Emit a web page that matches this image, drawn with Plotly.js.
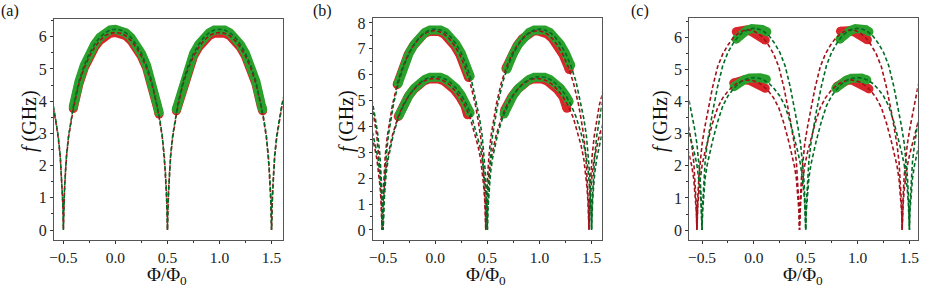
<!DOCTYPE html>
<html><head><meta charset="utf-8">
<script src="https://cdn.plot.ly/plotly-3.0.1.min.js"></script>
<style>html,body{margin:0;padding:0;background:#fff}</style>
</head><body><div id="chart" style="width:926px;height:293px"></div>
<script>
// ---------- data ----------
const xTickVals = [-0.5, 0, 0.5, 1, 1.5];
const xTickText = ['\u22120.5', '0.0', '0.5', '1.0', '1.5'];
const xMinorVals = [-0.25, 0.25, 0.75, 1.25];
const yTickA = [0,1,2,3,4,5,6];
const yTickB = [0,1,2,3,4,5,6,7,8];
const yMinorA = [0.5,1.5,2.5,3.5,4.5,5.5,6.5];
const yMinorB = [0.5,1.5,2.5,3.5,4.5,5.5,6.5,7.5];
const panelLabels = ['(a)', '(b)', '(c)'];

// flux grid for curves with dips at -0.5, 0.5, 1.5
const xStd = [-0.625,-0.6,-0.575,-0.55,-0.53,-0.52,-0.51,-0.505,-0.5,-0.495,-0.49,-0.48,-0.47,-0.45,-0.425,-0.4,-0.35,-0.3,-0.25,-0.2,-0.15,-0.1,-0.05,0,0.05,0.1,0.15,0.2,0.25,0.3,0.35,0.4,0.425,0.45,0.47,0.48,0.49,0.495,0.5,0.505,0.51,0.52,0.53,0.55,0.575,0.6,0.65,0.7,0.75,0.8,0.85,0.9,0.95,1,1.05,1.1,1.15,1.2,1.25,1.3,1.35,1.4,1.425,1.45,1.47,1.48,1.49,1.495,1.5,1.505,1.51,1.52,1.53,1.55,1.575,1.6,1.625];

// panel (a)
const fA_green = [4.24,3.91,3.46,2.93,2.31,1.81,1.18,0.81,0,0.81,1.18,1.81,2.31,2.93,3.46,3.91,4.61,5.11,5.48,5.76,5.98,6.12,6.21,6.23,6.21,6.12,5.98,5.76,5.48,5.11,4.61,3.91,3.46,2.93,2.31,1.81,1.18,0.81,0,0.81,1.18,1.81,2.31,2.93,3.46,3.91,4.61,5.11,5.48,5.76,5.98,6.12,6.21,6.23,6.21,6.12,5.98,5.76,5.48,5.11,4.61,3.91,3.46,2.93,2.31,1.81,1.18,0.81,0,0.81,1.18,1.81,2.31,2.93,3.46,3.91,4.24];
const fA_red = [4.17,3.85,3.40,2.88,2.27,1.78,1.16,0.80,0,0.80,1.16,1.78,2.27,2.88,3.40,3.85,4.54,5.03,5.39,5.67,5.88,6.03,6.11,6.13,6.11,6.03,5.88,5.67,5.39,5.03,4.54,3.85,3.40,2.88,2.27,1.78,1.16,0.80,0,0.80,1.16,1.78,2.27,2.88,3.40,3.85,4.54,5.03,5.39,5.67,5.88,6.03,6.11,6.13,6.11,6.03,5.88,5.67,5.39,5.03,4.54,3.85,3.40,2.88,2.27,1.78,1.16,0.80,0,0.80,1.16,1.78,2.27,2.88,3.40,3.85,4.17];
const xA_band = [-0.405,-0.4,-0.35,-0.3,-0.25,-0.2,-0.15,-0.1,-0.05,0,0.05,0.1,0.15,0.2,0.25,0.3,0.35,0.4,0.42,null,0.585,0.6,0.65,0.7,0.75,0.8,0.85,0.9,0.95,1,1.05,1.1,1.15,1.2,1.25,1.3,1.35,1.4,1.415];
const fA_greenBand = [3.83,3.91,4.61,5.11,5.48,5.76,5.98,6.12,6.21,6.23,6.21,6.12,5.98,5.76,5.48,5.11,4.61,3.91,3.65,null,3.75,3.91,4.61,5.11,5.48,5.76,5.98,6.12,6.21,6.23,6.21,6.12,5.98,5.76,5.48,5.11,4.61,3.91,3.75];
const fA_redBand = [3.77,3.85,4.54,5.03,5.39,5.67,5.88,6.03,6.11,6.13,6.11,6.03,5.88,5.67,5.39,5.03,4.54,3.85,3.60,null,3.70,3.85,4.54,5.03,5.39,5.67,5.88,6.03,6.11,6.13,6.11,6.03,5.88,5.67,5.39,5.03,4.54,3.85,3.70];

// panel (b)
const fB_greenUp = [5.28,4.87,4.31,3.65,2.87,2.25,1.47,1.01,0,1.01,1.47,2.25,2.87,3.65,4.31,4.87,5.74,6.36,6.83,7.18,7.45,7.63,7.73,7.76,7.73,7.63,7.45,7.18,6.83,6.36,5.74,4.87,4.31,3.65,2.87,2.25,1.47,1.01,0,1.01,1.47,2.25,2.87,3.65,4.31,4.87,5.74,6.36,6.83,7.18,7.45,7.63,7.73,7.76,7.73,7.63,7.45,7.18,6.83,6.36,5.74,4.87,4.31,3.65,2.87,2.25,1.47,1.01,0,1.01,1.47,2.25,2.87,3.65,4.31,4.87,5.28];
const fB_greenLo = [4.03,3.72,3.29,2.78,2.19,1.72,1.12,0.77,0,0.77,1.12,1.72,2.19,2.78,3.29,3.72,4.38,4.85,5.21,5.48,5.68,5.82,5.90,5.92,5.90,5.82,5.68,5.48,5.21,4.85,4.38,3.72,3.29,2.78,2.19,1.72,1.12,0.77,0,0.77,1.12,1.72,2.19,2.78,3.29,3.72,4.38,4.85,5.21,5.48,5.68,5.82,5.90,5.92,5.90,5.82,5.68,5.48,5.21,4.85,4.38,3.72,3.29,2.78,2.19,1.72,1.12,0.77,0,0.77,1.12,1.72,2.19,2.78,3.29,3.72,4.03];
const xB_red = [-0.625,-0.6,-0.585,-0.56,-0.54,-0.53,-0.52,-0.515,-0.51,-0.505,-0.5,-0.49,-0.48,-0.46,-0.435,-0.41,-0.36,-0.31,-0.26,-0.21,-0.16,-0.11,-0.06,-0.0125,0.035,0.085,0.135,0.185,0.235,0.285,0.335,0.385,0.41,0.435,0.455,0.465,0.475,0.48,0.485,0.49,0.495,0.505,0.515,0.535,0.56,0.585,0.635,0.685,0.735,0.785,0.835,0.885,0.935,0.98,1.025,1.075,1.125,1.175,1.225,1.275,1.325,1.375,1.4,1.425,1.445,1.455,1.465,1.47,1.475,1.48,1.485,1.495,1.505,1.525,1.55,1.575,1.6,1.625];
const fB_redUp = [5.08,4.62,4.27,3.62,2.85,2.23,1.46,1.00,0,1.00,1.46,2.23,2.85,3.62,4.27,4.84,5.70,6.31,6.78,7.12,7.39,7.57,7.67,7.70,7.67,7.57,7.39,7.12,6.78,6.31,5.70,4.84,4.27,3.62,2.85,2.23,1.46,1.00,0,1.00,1.46,2.23,2.85,3.62,4.27,4.84,5.70,6.31,6.78,7.12,7.39,7.57,7.67,7.70,7.67,7.57,7.39,7.12,6.78,6.31,5.70,4.84,4.27,3.62,2.85,2.23,1.46,1.00,0,1.00,1.46,2.23,2.85,3.62,4.27,4.84,5.20,5.70];
const fB_redLo = [3.86,3.51,3.25,2.75,2.16,1.70,1.11,0.76,0,0.76,1.11,1.70,2.16,2.75,3.25,3.67,4.33,4.80,5.15,5.41,5.62,5.75,5.83,5.85,5.83,5.75,5.62,5.41,5.15,4.80,4.33,3.67,3.25,2.75,2.16,1.70,1.11,0.76,0,0.76,1.11,1.70,2.16,2.75,3.25,3.67,4.33,4.80,5.15,5.41,5.62,5.75,5.83,5.85,5.83,5.75,5.62,5.41,5.15,4.80,4.33,3.67,3.25,2.75,2.16,1.70,1.11,0.76,0,0.76,1.11,1.70,2.16,2.75,3.25,3.67,3.98,4.33];
const xB_greenUpBand = [-0.355,-0.3,-0.25,-0.2,-0.15,-0.1,-0.05,0,0.05,0.1,0.15,0.2,0.25,0.3,0.335,null,0.687,0.7,0.75,0.8,0.85,0.9,0.95,1,1.05,1.1,1.15,1.2,1.25,1.3];
const fB_greenUpBand = [5.66,6.36,6.83,7.18,7.45,7.63,7.73,7.76,7.73,7.63,7.45,7.18,6.83,6.36,5.94,null,6.21,6.36,6.83,7.18,7.45,7.63,7.73,7.76,7.73,7.63,7.45,7.18,6.83,6.36];
const xB_redUpBand = [-0.365,-0.31,-0.26,-0.21,-0.16,-0.11,-0.06,-0.0125,0.035,0.085,0.135,0.185,0.235,0.285,0.32,null,0.678,0.685,0.735,0.785,0.835,0.885,0.935,0.98,1.025,1.075,1.125,1.175,1.225,1.275,1.285];
const fB_redUpBand = [5.62,6.31,6.78,7.12,7.39,7.57,7.67,7.70,7.67,7.57,7.39,7.12,6.78,6.31,5.89,null,6.24,6.31,6.78,7.12,7.39,7.57,7.67,7.70,7.67,7.57,7.39,7.12,6.78,6.31,6.20];
const xB_greenLoBand = [-0.345,-0.3,-0.25,-0.2,-0.15,-0.1,-0.05,0,0.05,0.1,0.15,0.2,0.25,0.3,0.335,null,0.66,0.7,0.75,0.8,0.85,0.9,0.95,1,1.05,1.1,1.15,1.2,1.25,1.285];
const fB_greenLoBand = [4.43,4.85,5.21,5.48,5.68,5.82,5.90,5.92,5.90,5.82,5.68,5.48,5.21,4.85,4.53,null,4.48,4.85,5.21,5.48,5.68,5.82,5.90,5.92,5.90,5.82,5.68,5.48,5.21,4.96];
const xB_redLoBand = [-0.355,-0.31,-0.26,-0.21,-0.16,-0.11,-0.06,-0.0125,0.035,0.085,0.135,0.185,0.235,0.285,0.31,null,0.665,0.685,0.735,0.785,0.835,0.885,0.935,0.98,1.025,1.075,1.125,1.175,1.225,1.263];
const fB_redLoBand = [4.38,4.80,5.15,5.41,5.62,5.75,5.83,5.85,5.83,5.75,5.62,5.41,5.15,4.80,4.45,null,4.62,4.80,5.15,5.41,5.62,5.75,5.83,5.85,5.83,5.75,5.62,5.41,5.15,4.70];

// panel (c)
const fC_greenUp = [4.03,3.65,3.21,2.70,2.14,1.70,1.10,0.75,0,0.75,1.10,1.70,2.14,2.70,3.21,3.65,4.47,5.13,5.54,5.82,6.04,6.18,6.26,6.29,6.26,6.18,6.04,5.82,5.54,5.13,4.47,3.65,3.21,2.70,2.14,1.70,1.10,0.75,0,0.75,1.10,1.70,2.14,2.70,3.21,3.65,4.47,5.13,5.54,5.82,6.04,6.18,6.26,6.29,6.26,6.18,6.04,5.82,5.54,5.13,4.47,3.65,3.21,2.70,2.14,1.70,1.10,0.75,0,0.75,1.10,1.70,2.14,2.70,3.21,3.65,4.03];
const fC_greenLo = [3.04,2.76,2.42,2.04,1.62,1.28,0.83,0.57,0,0.57,0.83,1.28,1.62,2.04,2.42,2.76,3.37,3.87,4.18,4.39,4.56,4.67,4.73,4.75,4.73,4.67,4.56,4.39,4.18,3.87,3.37,2.76,2.42,2.04,1.62,1.28,0.83,0.57,0,0.57,0.83,1.28,1.62,2.04,2.42,2.76,3.37,3.87,4.18,4.39,4.56,4.67,4.73,4.75,4.73,4.67,4.56,4.39,4.18,3.87,3.37,2.76,2.42,2.04,1.62,1.28,0.83,0.57,0,0.57,0.83,1.28,1.62,2.04,2.42,2.76,3.04];
const xC_red = [-0.65,-0.625,-0.6,-0.58,-0.57,-0.56,-0.555,-0.55,-0.545,-0.54,-0.53,-0.52,-0.5,-0.475,-0.45,-0.4,-0.35,-0.3,-0.25,-0.2,-0.15,-0.1,-0.055,-0.01,0.04,0.09,0.14,0.19,0.24,0.29,0.34,0.365,0.39,0.41,0.42,0.43,0.435,0.44,0.445,0.45,0.46,0.47,0.49,0.515,0.54,0.59,0.64,0.69,0.74,0.79,0.84,0.89,0.935,0.98,1.03,1.08,1.13,1.18,1.23,1.28,1.33,1.355,1.38,1.4,1.41,1.42,1.425,1.43,1.435,1.44,1.45,1.46,1.48,1.505,1.53,1.58,1.63];
const fC_redUp = [3.62,3.18,2.68,2.12,1.68,1.09,0.75,0,0.75,1.09,1.68,2.12,2.68,3.18,3.62,4.43,5.09,5.49,5.77,5.99,6.13,6.22,6.24,6.22,6.13,5.99,5.77,5.49,5.09,4.43,3.62,3.18,2.68,2.12,1.68,1.09,0.75,0,0.75,1.09,1.68,2.12,2.68,3.18,3.62,4.43,5.09,5.49,5.77,5.99,6.13,6.22,6.24,6.22,6.13,5.99,5.77,5.49,5.09,4.43,3.62,3.18,2.68,2.12,1.68,1.09,0.75,0,0.75,1.09,1.68,2.12,2.68,3.18,3.62,4.43,5.09];
const fC_redLo = [2.71,2.39,2.01,1.59,1.26,0.82,0.56,0,0.56,0.82,1.26,1.59,2.01,2.39,2.71,3.32,3.81,4.12,4.33,4.49,4.60,4.66,4.68,4.66,4.60,4.49,4.33,4.12,3.81,3.32,2.71,2.39,2.01,1.59,1.26,0.82,0.56,0,0.56,0.82,1.26,1.59,2.01,2.39,2.71,3.32,3.81,4.12,4.33,4.49,4.60,4.66,4.68,4.66,4.60,4.49,4.33,4.12,3.81,3.32,2.71,2.39,2.01,1.59,1.26,0.82,0.56,0,0.56,0.82,1.26,1.59,2.01,2.39,2.71,3.32,3.81];
const xC_greenUpBand = [-0.17,-0.12,-0.07,-0.02,0.03,0.08,0.125,null,0.83,0.88,0.93,0.98,1.03,1.08,1.11];
const fC_greenUpBand = [5.95,6.12,6.22,6.28,6.29,6.25,6.18,null,5.95,6.12,6.22,6.28,6.29,6.25,6.18];
const xC_redUpBand = [-0.17,-0.12,-0.07,-0.02,0.03,0.08,0.11,null,0.835,0.88,0.93,0.98,1.03,1.08,1.095];
const fC_redUpBand = [6.18,6.24,6.24,6.18,6.10,5.99,5.92,null,6.20,6.24,6.22,6.15,6.06,5.97,5.93];
const xC_greenLoBand = [-0.19,-0.14,-0.09,-0.04,0.01,0.06,0.12,null,0.79,0.84,0.89,0.94,0.99,1.04,1.09];
const fC_greenLoBand = [4.47,4.60,4.69,4.74,4.76,4.75,4.70,null,4.42,4.57,4.67,4.73,4.76,4.74,4.68];
const xC_redLoBand = [-0.195,-0.14,-0.09,-0.04,0.01,0.06,0.11,null,0.80,0.85,0.90,0.95,1.00,1.05,1.11];
const fC_redLoBand = [4.58,4.65,4.68,4.66,4.60,4.51,4.42,null,4.47,4.60,4.67,4.67,4.60,4.50,4.40];

// ---------- styling ----------
const FONT = 'Liberation Serif, Times New Roman, serif';
const DARKRED = '#a3121b', DARKGREEN = '#006b22';
const BANDRED = '#d9262a', BANDGREEN = '#2aa12c';
const BANDW = 9;

function dashed(x, y, color, xa, ya) {
  return {x, y, xaxis: xa, yaxis: ya, type: 'scatter', mode: 'lines',
    line: {color, width: 1.6, dash: '4px,2.5px'}, hoverinfo: 'skip', showlegend: false};
}
// end points of each null-separated segment (rounded band ends)
function segEnds(x, y) {
  const ex = [], ey = [];
  let start = -1;
  for (let i = 0; i <= x.length; i++) {
    const isNull = i === x.length || x[i] === null;
    if (!isNull && start < 0) start = i;
    if (isNull && start >= 0) { ex.push(x[start], x[i - 1]); ey.push(y[start], y[i - 1]); start = -1; }
  }
  return [ex, ey];
}
function band(x, y, color, xa, ya) {
  const [ex, ey] = segEnds(x, y);
  return [
    {x, y, xaxis: xa, yaxis: ya, type: 'scatter', mode: 'lines',
      line: {color, width: BANDW}, connectgaps: false, hoverinfo: 'skip', showlegend: false},
    {x: ex, y: ey, xaxis: xa, yaxis: ya, type: 'scatter', mode: 'markers',
      marker: {color, size: BANDW, line: {width: 0}}, hoverinfo: 'skip', showlegend: false}
  ];
}

const traces = [].concat(
  band(xA_band, fA_redBand, BANDRED, 'x', 'y'),
  band(xA_band, fA_greenBand, BANDGREEN, 'x', 'y'),
  [dashed(xStd, fA_red, DARKRED, 'x', 'y'),
   dashed(xStd, fA_green, DARKGREEN, 'x', 'y')],

  band(xB_redUpBand, fB_redUpBand, BANDRED, 'x2', 'y2'),
  band(xB_redLoBand, fB_redLoBand, BANDRED, 'x2', 'y2'),
  band(xB_greenUpBand, fB_greenUpBand, BANDGREEN, 'x2', 'y2'),
  band(xB_greenLoBand, fB_greenLoBand, BANDGREEN, 'x2', 'y2'),
  [dashed(xB_red, fB_redUp, DARKRED, 'x2', 'y2'),
   dashed(xB_red, fB_redLo, DARKRED, 'x2', 'y2'),
   dashed(xStd, fB_greenUp, DARKGREEN, 'x2', 'y2'),
   dashed(xStd, fB_greenLo, DARKGREEN, 'x2', 'y2')],

  band(xC_redUpBand, fC_redUpBand, BANDRED, 'x3', 'y3'),
  band(xC_redLoBand, fC_redLoBand, BANDRED, 'x3', 'y3'),
  band(xC_greenUpBand, fC_greenUpBand, BANDGREEN, 'x3', 'y3'),
  band(xC_greenLoBand, fC_greenLoBand, BANDGREEN, 'x3', 'y3'),
  [dashed(xC_red, fC_redUp, DARKRED, 'x3', 'y3'),
   dashed(xC_red, fC_redLo, DARKRED, 'x3', 'y3'),
   dashed(xStd, fC_greenUp, DARKGREEN, 'x3', 'y3'),
   dashed(xStd, fC_greenLo, DARKGREEN, 'x3', 'y3')]
);

const W = 926, H = 293;
function xAxis(d0, d1, range, anchor) {
  return {domain: [d0 / W, d1 / W], range, anchor, tickvals: xTickVals, ticktext: xTickText,
    ticks: 'outside', ticklen: 3, tickwidth: 1, tickcolor: '#333',
    showline: true, mirror: true, linecolor: '#555', linewidth: 1,
    showgrid: false, zeroline: false,
    minor: {tickvals: xMinorVals, ticks: 'outside', ticklen: 2, tickcolor: '#333', showgrid: false},
    tickfont: {family: FONT, size: 15.5, color: '#222'}};
}
function yAxis(top, range, anchor, vals, minor) {
  return {domain: [(H - 240) / H, (H - top) / H], range, anchor, tickvals: vals,
    ticks: 'outside', ticklen: 3, tickwidth: 1, tickcolor: '#333',
    showline: true, mirror: true, linecolor: '#555', linewidth: 1,
    showgrid: false, zeroline: false,
    minor: {tickvals: minor, ticks: 'outside', ticklen: 2, tickcolor: '#333', showgrid: false},
    tickfont: {family: FONT, size: 16, color: '#222'}};
}

function ann(text, px, py, size, angle) {
  return {text, xref: 'paper', yref: 'paper', x: px / W, y: (H - py) / H,
    xanchor: 'center', yanchor: 'middle', showarrow: false, textangle: angle || 0,
    font: {family: FONT, size, color: '#111'}};
}

const layout = {
  width: W, height: H, margin: {l: 0, r: 0, t: 0, b: 0},
  paper_bgcolor: '#fff', plot_bgcolor: '#fff', showlegend: false,
  xaxis: xAxis(54, 283, [-0.59, 1.61], 'y'),
  yaxis: yAxis(19, [-0.31, 6.55], 'x', yTickA, yMinorA),
  xaxis2: xAxis(372.7, 601.7, [-0.60, 1.597], 'y2'),
  yaxis2: yAxis(18, [-0.39, 8.19], 'x2', yTickB, yMinorB),
  xaxis3: xAxis(689.3, 917.7, [-0.623, 1.58], 'y3'),
  yaxis3: yAxis(18.3, [-0.31, 6.6], 'x3', yTickA, yMinorA),
  annotations: [
    ann(panelLabels[0], 10, 11, 16), ann(panelLabels[1], 322, 11, 16), ann(panelLabels[2], 640, 11, 16),
    ann('<i>f</i> (GHz)', 29, 121, 20, -90), ann('<i>f</i> (GHz)', 346, 121, 20, -90), ann('<i>f</i> (GHz)', 660, 121, 20, -90),
    ann('\u03A6/\u03A6<sub>0</sub>', 167, 276, 19), ann('\u03A6/\u03A6<sub>0</sub>', 486, 276, 19), ann('\u03A6/\u03A6<sub>0</sub>', 803, 276, 19)
  ]
};

Plotly.newPlot('chart', traces, layout, {staticPlot: true, displayModeBar: false});
</script></body></html>
